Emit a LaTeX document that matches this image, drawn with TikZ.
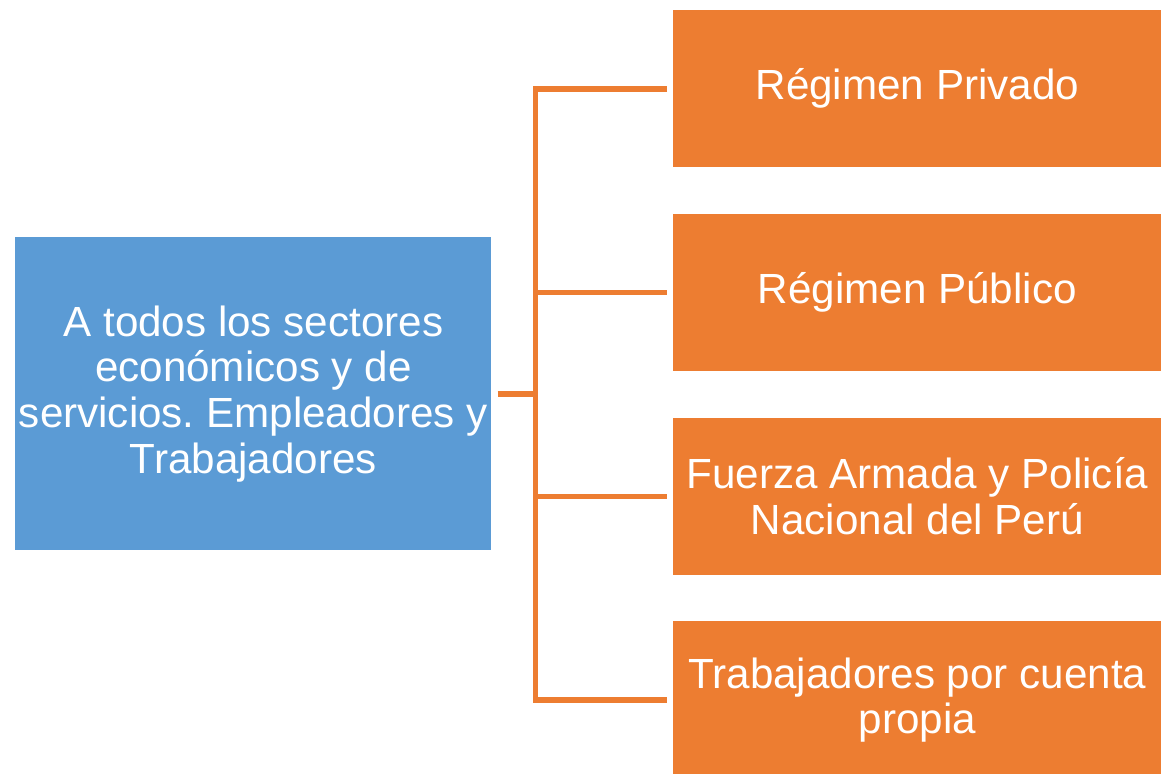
\documentclass[tikz,border=0pt]{standalone}
\usepackage{fontspec}
\setmainfont{Liberation Sans}
\usepackage{xcolor}
\usetikzlibrary{positioning}
\definecolor{boxblue}{HTML}{5B9BD5}
\definecolor{boxorange}{HTML}{ED7D31}
\frenchspacing

\begin{document}
\begin{tikzpicture}[
    every node/.style={font=\fontsize{24}{26}\selectfont},
    sector/.style={draw=none, fill=boxblue, text=white, align=center,
        minimum width=9.52cm, minimum height=6.26cm, inner sep=0pt},
    regime/.style={draw=none, fill=boxorange, text=white, align=center,
        minimum width=9.76cm, minimum height=3.14cm, inner sep=0pt},
    conn/.style={draw=boxorange, line width=0.11cm}
    ]
    \useasboundingbox (0,0) rectangle (23.22,-15.48);
    % Left box
        \node[sector, anchor=north west] (sec) at (0.3,-4.74)
            {A todos los sectores\\económicos y de\\servicios. Empleadores y\\Trabajadores};
    % Right boxes
        \node[regime, anchor=north west] (priv) at (13.46,-0.2) {Régimen Privado};
        \node[regime,
            below=0.92 cm of priv
            ] (pub) {Régimen Público};
        \node[regime,
            below=0.92 cm of pub
            ] (ffaa) {Fuerza Armada y Policía\\Nacional del Perú};
        \node[regime,
            below=0.92 cm of ffaa
            ] (prop) {Trabajadores por cuenta\\propia};
        \coordinate (bus) at (10.71,0);

    % Connectors
    \draw[conn] ([xshift=0.12cm]sec.east) -- (sec.east -| bus);
    \draw[conn] ([xshift=-0.12cm]priv.west) -- (priv.west -| bus)
        -- (prop.west -| bus) -- ([xshift=-0.12cm]prop.west);
    \draw[conn] (pub.west -| bus) -- ([xshift=-0.12cm]pub.west);
    \draw[conn] (ffaa.west -| bus) -- ([xshift=-0.12cm]ffaa.west);
\end{tikzpicture}
\end{document}
